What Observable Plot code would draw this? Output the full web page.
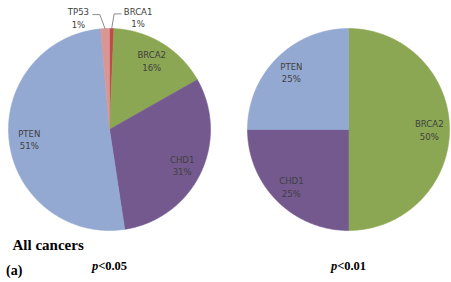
<!DOCTYPE html>
<html><head><meta charset="utf-8">
<script src="https://cdn.jsdelivr.net/npm/d3@7"></script>
<script src="https://cdn.jsdelivr.net/npm/@observablehq/plot@0.6"></script>
<style>
body{margin:0;background:#fff;}
#wrap{position:relative;width:451px;height:282px;overflow:hidden;background:#fff;}
.cap{position:absolute;font-family:"Liberation Serif","Times New Roman",serif;font-weight:bold;color:#000;white-space:nowrap;margin:0;}
</style></head><body><div id="wrap"></div>
<script>
// ---- data ----
const panels = ["p<0.05", "p<0.01"];
const genes05 = ["BRCA1", "BRCA2", "CHD1", "PTEN", "TP53"];
const share05 = [0.7, 16.1, 30.8, 51.0, 1.4];
const genes01 = ["BRCA2", "CHD1", "PTEN"];
const share01 = [50, 25, 25];
const geneNames = ["PTEN", "CHD1", "BRCA2", "BRCA1", "TP53"];
const geneColors = ["#94a9d1", "#74598f", "#8ba753", "#be4b48", "#d99694"];
const title = "All cancers";
const panelTag = "(a)";

// ---- layout ----
const R = 101; // pie radius in px (frame 202px)

function slicesFor(panel, genes, shares) {
  const arcs = d3.pie().sort(null).value(d => d)(shares);
  return arcs.map((a, i) => ({panel, gene: genes[i], share: shares[i],
    a0: a.startAngle, a1: a.endAngle, mid: (a.startAngle + a.endAngle) / 2}));
}
const slices = [...slicesFor(panels[0], genes05, share05), ...slicesFor(panels[1], genes01, share01)];

const poly = [];
slices.forEach((s, k) => {
  const n = Math.max(2, Math.ceil((s.a1 - s.a0) / (Math.PI / 360)));
  poly.push({k, panel: s.panel, gene: s.gene, x: 0, y: 0});
  for (let j = 0; j <= n; j++) {
    const a = s.a0 + (s.a1 - s.a0) * j / n;
    poly.push({k, panel: s.panel, gene: s.gene, x: Math.sin(a), y: Math.cos(a)});
  }
  poly.push({k, panel: s.panel, gene: s.gene, x: 0, y: 0});
});

const labels = [];
const leaders = [];
slices.forEach((s, k) => {
  const txt = s.gene + "\n" + Math.round(s.share) + "%";
  if (s.share >= 3) {
    labels.push({panel: s.panel, text: txt, x: 0.8 * Math.sin(s.mid), y: 0.8 * Math.cos(s.mid)});
  } else {
    const side = s.mid < Math.PI ? 1 : -1;
    const la = s.mid + side * 0.227;
    const lx = 1.15 * Math.sin(la), ly = 1.15 * Math.cos(la);
    labels.push({panel: s.panel, text: txt, x: lx, y: ly});
    const halfW = s.gene.length * 2.6 + 4;
    const sx = lx - side * halfW / R, sy = ly + 3 / R;
    leaders.push({k, panel: s.panel, x: sx, y: sy});
    leaders.push({k, panel: s.panel, x: sx - side * 7 / R, y: sy});
    leaders.push({k, panel: s.panel, x: Math.sin(s.mid), y: Math.cos(s.mid)});
  }
});

const chart = Plot.plot({
  width: 451, height: 282,
  marginTop: 28, marginBottom: 52, marginLeft: 7, marginRight: 2,
  x: {domain: [-1, 1], axis: null},
  y: {domain: [-1, 1], axis: null},
  fx: {domain: panels, paddingInner: 0.1566, paddingOuter: 0, label: null, axis: "bottom", tickSize: 0, tickPadding: 31},
  color: {domain: geneNames, range: geneColors},
  style: {background: "white", overflow: "visible"},
  marks: [
    Plot.line(poly, {x: "x", y: "y", z: "k", fx: "panel", fill: "gene", stroke: "gene", strokeWidth: 0.6, curve: "linear"}),
    Plot.line(leaders, {x: "x", y: "y", z: "k", fx: "panel", stroke: "#7f7f7f", strokeWidth: 0.9, curve: "linear"}),
    Plot.text(labels, {x: "x", y: "y", fx: "panel", text: "text", lineHeight: 1.3, fontSize: 9.5,
      fontFamily: "'Liberation Sans Narrow', 'DejaVu Sans Condensed', Lato, sans-serif", fill: "#404040"})
  ]
});

// fx axis labels: italic p
chart.querySelectorAll('g[aria-label^="fx-axis"] text').forEach(t => {
  const s = t.textContent;
  if (s.startsWith("p")) {
    t.textContent = "";
    const ns = "http://www.w3.org/2000/svg";
    const a = document.createElementNS(ns, "tspan");
    a.setAttribute("font-style", "italic");
    a.textContent = "p";
    const b = document.createElementNS(ns, "tspan");
    b.textContent = s.slice(1);
    t.appendChild(a); t.appendChild(b);
  }
  t.setAttribute("font-family", "'Liberation Serif', 'Times New Roman', serif");
  t.setAttribute("font-weight", "bold");
  t.setAttribute("font-size", "12.5");
  t.setAttribute("fill", "#000");
});

const wrap = document.getElementById("wrap");
wrap.appendChild(chart);
chart.style.position = "absolute"; chart.style.left = "0"; chart.style.top = "0";

const t1 = document.createElement("div");
t1.className = "cap"; t1.textContent = title;
t1.style.cssText = "left:12.5px;top:238px;font-size:15px;line-height:15px;";
wrap.appendChild(t1);
const t2 = document.createElement("div");
t2.className = "cap"; t2.textContent = panelTag;
t2.style.cssText = "left:6px;top:264px;font-size:14px;line-height:14px;";
wrap.appendChild(t2);
</script>
</body></html>
